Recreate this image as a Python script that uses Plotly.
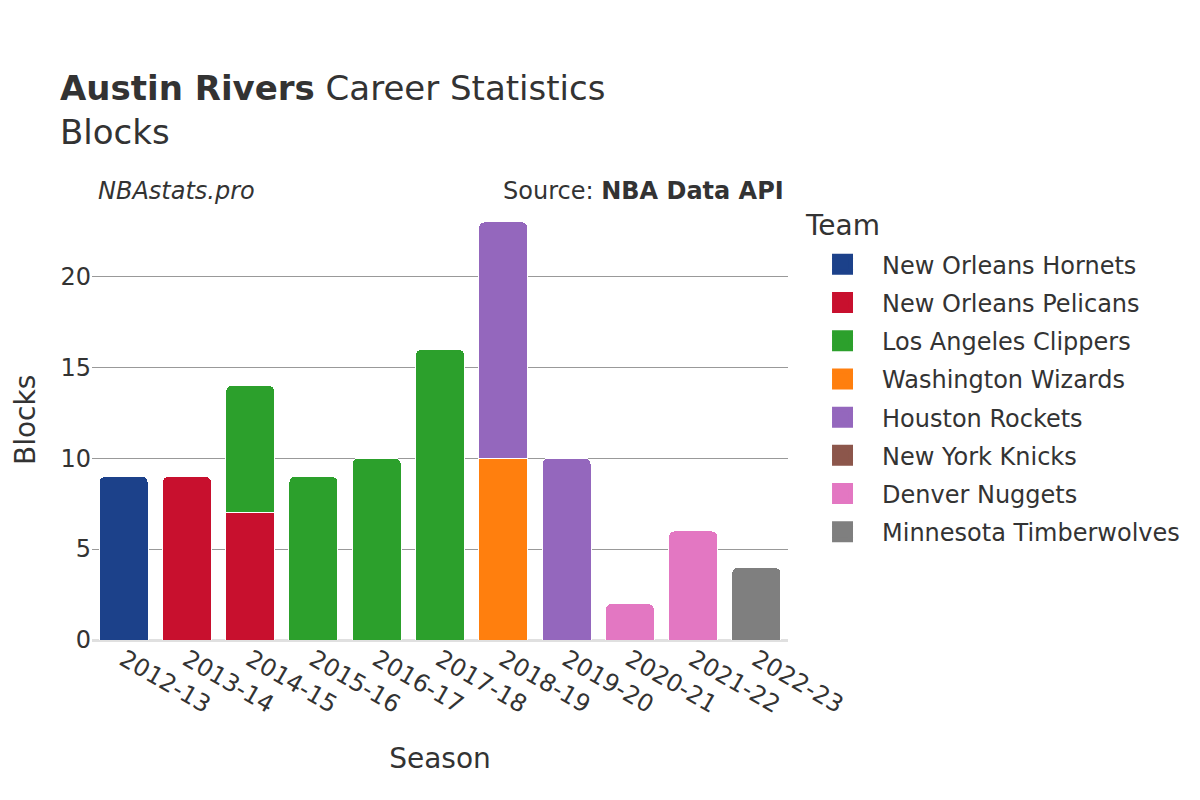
import plotly.graph_objects as go

seasons = ["2012-13", "2013-14", "2014-15", "2015-16", "2016-17", "2017-18",
           "2018-19", "2019-20", "2020-21", "2021-22", "2022-23"]

teams = ["New Orleans Hornets", "New Orleans Pelicans", "Los Angeles Clippers",
         "Washington Wizards", "Houston Rockets", "New York Knicks",
         "Denver Nuggets", "Minnesota Timberwolves"]

colors = ["#1c418a", "#c8102e", "#2ca02c", "#ff7f0e", "#9467bd", "#8c564b",
          "#e377c2", "#7f7f7f"]

hornets_seasons = ["2012-13"]
hornets_blocks = [9]
pelicans_seasons = ["2013-14", "2014-15"]
pelicans_blocks = [9, 7]
clippers_seasons = ["2014-15", "2015-16", "2016-17", "2017-18"]
clippers_blocks = [7, 9, 10, 16]
wizards_seasons = ["2018-19"]
wizards_blocks = [10]
rockets_seasons = ["2018-19", "2019-20"]
rockets_blocks = [13, 10]
knicks_seasons = ["2020-21"]
knicks_blocks = [0]
nuggets_seasons = ["2020-21", "2021-22"]
nuggets_blocks = [2, 6]
wolves_seasons = ["2022-23"]
wolves_blocks = [4]

series = [
    (hornets_seasons, hornets_blocks),
    (pelicans_seasons, pelicans_blocks),
    (clippers_seasons, clippers_blocks),
    (wizards_seasons, wizards_blocks),
    (rockets_seasons, rockets_blocks),
    (knicks_seasons, knicks_blocks),
    (nuggets_seasons, nuggets_blocks),
    (wolves_seasons, wolves_blocks),
]

font_family = "DejaVu Sans"
text_color = "#333333"

fig = go.Figure()
for name, color, (xs, ys) in zip(teams, colors, series):
    fig.add_trace(go.Bar(
        x=xs, y=ys, name=name, legendgroup=name, showlegend=False,
        marker=dict(color=color, line=dict(color="white", width=1)),
    ))
# legend entries (larger symbols)
for name, color in zip(teams, colors):
    fig.add_trace(go.Scatter(
        x=[None], y=[None], name=name, legendgroup=name, mode="markers",
        marker=dict(symbol="square", size=16, color=color,
                    line=dict(color=color, width=5)),
        hoverinfo="skip",
    ))

fig.update_layout(
    barmode="stack",
    barcornerradius=6,
    bargap=0.225,
    width=1200, height=800,
    paper_bgcolor="white", plot_bgcolor="white",
    font=dict(family=font_family, color=text_color, size=24),
    margin=dict(l=84, r=420, t=192, b=168, autoexpand=False),
    title=dict(
        text="<b>Austin Rivers</b> Career Statistics<br>Blocks",
        x=52 / 1200, xanchor="left", y=1 - 92 / 800, yanchor="top",
        font=dict(size=34, color=text_color, family=font_family),
    ),
    legend=dict(
        x=1.0216, xanchor="left", y=0.904, yanchor="top",
        font=dict(size=24),
        traceorder="grouped",
        tracegroupgap=4,
        itemwidth=69,
        itemsizing="trace",
    ),
    xaxis=dict(
        title=dict(text="Season", font=dict(size=28), standoff=30),
        categoryorder="array", categoryarray=seasons,
        tickangle=30, tickfont=dict(size=24),
        showgrid=False, showline=False, ticks="",
        automargin=False,
    ),
    yaxis=dict(
        tickfont=dict(size=24),
        tickvals=[0, 5, 10, 15, 20],
        showgrid=True, gridcolor="#999999", gridwidth=1,
        zeroline=True, zerolinecolor="#e0e0e0", zerolinewidth=3,
        range=[0, 24.2],
        automargin=False,
    ),
    annotations=[
        dict(text="<i>NBAstats.pro</i>", xref="paper", yref="paper",
             x=0.0, y=1.0, xanchor="left", yanchor="bottom", yshift=-7,
             xshift=4, showarrow=False, font=dict(size=24, color=text_color)),
        dict(text="Source: <b>NBA Data API</b>", xref="paper", yref="paper",
             x=1.0, y=1.0, xanchor="right", yanchor="bottom", yshift=-7,
             xshift=-2, showarrow=False, font=dict(size=24, color=text_color)),
        dict(text="Team", xref="paper", yref="paper",
             x=1.0216, y=0.942, xanchor="left", yanchor="middle",
             xshift=0, showarrow=False, font=dict(size=28, color=text_color)),
        dict(text="Blocks", xref="paper", yref="paper", textangle=-90,
             x=0.0, y=0.5, xanchor="center", yanchor="middle",
             xshift=-67, showarrow=False, font=dict(size=28, color=text_color)),
    ],
)

fig.write_html("out.html")
